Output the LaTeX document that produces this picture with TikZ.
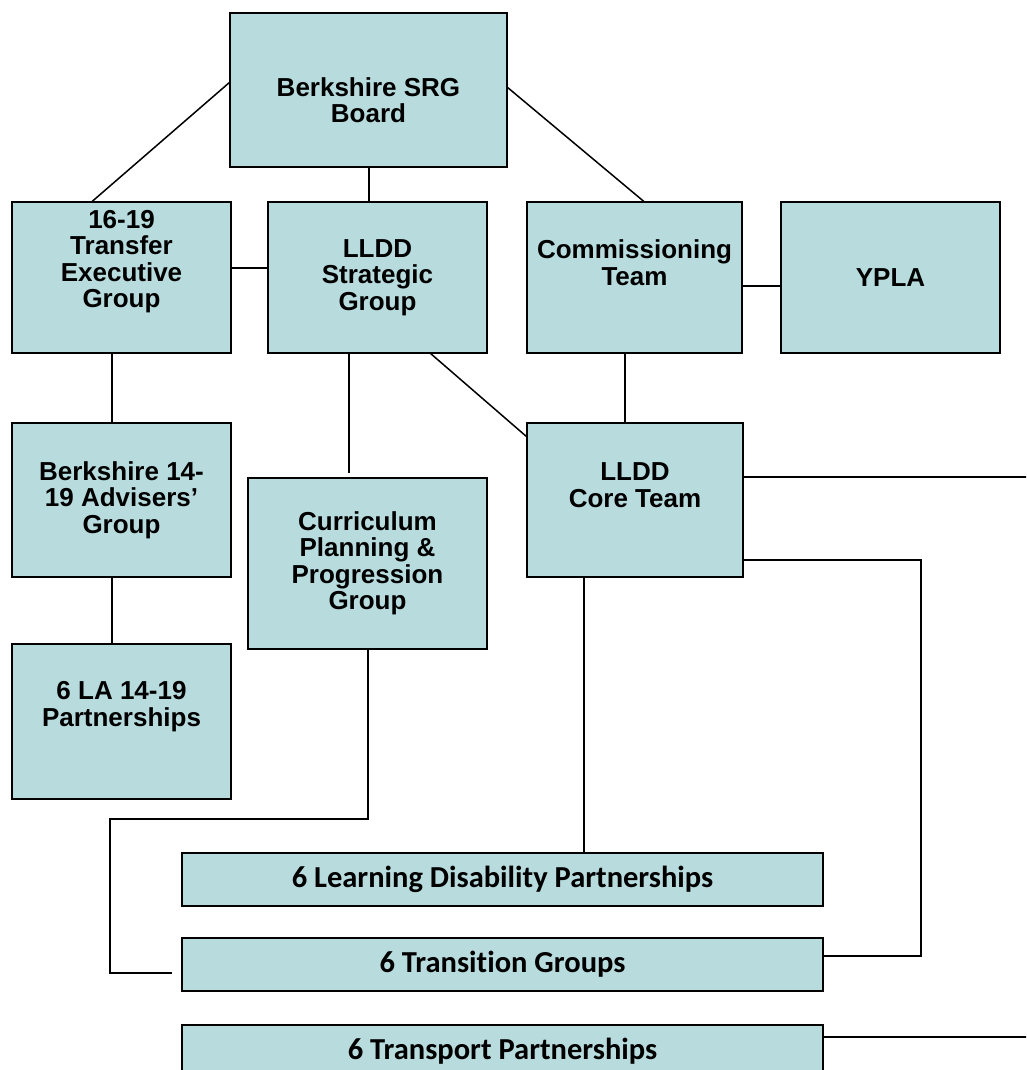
\documentclass[tikz,border=0pt]{standalone}
\usepackage{fontspec}
\setmainfont{Liberation Sans}
\newfontfamily\condfont[Ligatures={NoCommon}]{Carlito}
\usepackage{tikz}
\usetikzlibrary{positioning}
\definecolor{boxblue}{HTML}{B8DCDE}

\begin{document}
\begin{tikzpicture}[x=1pt, y=-1pt, font=\bfseries\fontsize{26}{26.5}\selectfont,
  box/.style={draw, line width=2pt, fill=boxblue, align=center, inner sep=0pt, outer sep=0pt, minimum width=219pt, minimum height=151pt},
  bar/.style={box, minimum width=641pt, minimum height=53pt, font=\condfont\bfseries\fontsize{30.5}{31}\selectfont},
  txt/.style={align=center},
  ln/.style={line width=2pt},
  dg/.style={line width=1.5pt}]
  \useasboundingbox (0,0) rectangle (1026,1070);
  \clip (0,0) rectangle (1026,1070);
  % top level
  \node[box, minimum width=277pt, minimum height=154pt, label={[txt, yshift=-10pt]center:Berkshire SRG\\Board}] (board) at (368.5,90) {};
  \node[box, label={[txt, yshift=16pt]center:16-19\\Transfer\\Executive\\Group}] (teg) at (121.5,277.5) {};
  \node[box, right=37pt of teg] (strat) {LLDD\\Strategic\\Group};
  \node[box, minimum width=215pt, right=40pt of strat, label={[txt, yshift=15pt]center:Commissioning\\Team}] (comm) {};
  \node[box, right=39pt of comm] (ypla) {YPLA};
  % groups
  \node[box, minimum height=154pt, below=70pt of teg] (adv) {Berkshire 14-\\19 Advisers'\\Group};
  \node[box, minimum height=155pt, below=67pt of adv, label={[txt, yshift=15pt]center:6 LA 14-19\\Partnerships}] (la) {};
  \node[box, minimum width=239pt, minimum height=171pt] (curr) at (367.5,563.5) {Curriculum\\Planning \&\\Progression\\Group};
  \node[box, minimum width=216pt, minimum height=154pt, label={[txt, yshift=15pt]center:LLDD\\Core Team}] (core) at (635,500) {};
  % partnerships
  \node[bar] (ldp) at (502.5,879.5) {6 Learning Disability Partnerships};
  \node[bar, below=32pt of ldp] (trg) {6 Transition Groups};
  \node[bar, below=34pt of trg] (trp) {6 Transport Partnerships};

  \draw[dg] ([yshift=8pt]board.west) -- ([xshift=-30pt]teg.north);
  \draw[ln] (board.south) -- (board.south |- strat.north);
  \draw[dg] ([yshift=3pt]board.east) -- ([xshift=10pt]comm.north);
  \draw[ln] ([yshift=10pt]teg.east) -- ([yshift=10pt]strat.west);
  \draw[ln] ([yshift=-8.5pt]comm.east) -- ([yshift=-8.5pt]ypla.west);
  \draw[ln] ([xshift=-10pt]teg.south) -- ([xshift=-10pt]adv.north);
  \draw[ln] ([xshift=-10pt]adv.south) -- ([xshift=-10pt]la.north);
  \draw[ln] ([xshift=-28.5pt]strat.south) -- ([xshift=-18.5pt, yshift=5pt]curr.north);
  \draw[dg] ([xshift=-57pt]strat.south east) -- ([yshift=-14pt]core.north west);
  \draw[ln] ([xshift=-9.5pt]comm.south) -- ([xshift=-10pt]core.north);
  \draw[ln] ([xshift=-51pt]core.south) -- ([xshift=-51pt]core.south |- ldp.north);
  \draw[ln] ([yshift=23pt]core.east) -- (1030,477) |- ([yshift=14.5pt]trp.east);
  \draw[ln] ([yshift=-60pt]core.east) -- ++(178,0) |- ([yshift=8.5pt]trg.east);
  \draw[ln] (curr.south) |- (110,819) |- ([xshift=-10pt, yshift=-8.5pt]trg.west);
\end{tikzpicture}
\end{document}
